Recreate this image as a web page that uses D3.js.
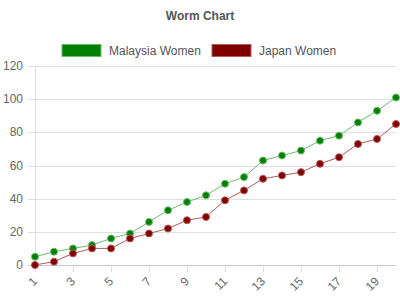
<!DOCTYPE html>
<html>
<head>
<meta charset="utf-8">
<script src="https://cdn.jsdelivr.net/npm/d3@7"></script>
<style>
  body { margin: 0; background: #fff; }
  text { font-family: "Liberation Sans", Arial, sans-serif; }
</style>
</head>
<body>
<svg id="chart" width="400" height="300"></svg>
<script>
const overs = d3.range(1, 21);
const malaysia = [5, 8, 10, 12, 16, 19, 26, 33, 38, 42, 49, 53, 63, 66, 69, 75, 78, 86, 93, 101];
const japan = [0, 2, 7, 10, 10, 16, 19, 22, 27, 29, 39, 45, 52, 54, 56, 61, 65, 73, 76, 85];
const seriesNames = ["Malaysia Women", "Japan Women"];
const seriesColors = ["#008000", "#800000"];
const lineColors = ["#6dbb6d", "#b35a5a"];
const yTicks = [0, 20, 40, 60, 80, 100, 120];

const svg = d3.select("#chart");
const margin = {left: 35, right: 5, top: 66, bottom: 35};
const W = 400, H = 300;

const x = d3.scaleLinear().domain([1, 20]).range([margin.left, W - 4]);
const y = d3.scaleLinear().domain([0, 120]).range([H - margin.bottom, margin.top]);

// Title
svg.append("text")
  .attr("x", 200).attr("y", 20)
  .attr("text-anchor", "middle")
  .attr("font-size", 12).attr("font-weight", "bold")
  .attr("fill", "#555")
  .text("Worm Chart");

// Legend
const legendX = [62, 212];
seriesNames.forEach((name, i) => {
  svg.append("rect")
    .attr("x", legendX[i]).attr("y", 44.5)
    .attr("width", 39).attr("height", 12)
    .attr("fill", seriesColors[i])
    .attr("stroke", lineColors[i]).attr("stroke-width", 1);
  svg.append("text")
    .attr("x", legendX[i] + 47).attr("y", 54.5)
    .attr("font-size", 12).attr("fill", "#555")
    .text(name);
});

// Grid lines
svg.append("g")
  .selectAll("line")
  .data(yTicks)
  .enter().append("line")
  .attr("x1", 28).attr("x2", W - 4)
  .attr("y1", d => Math.round(y(d)) + 0.5).attr("y2", d => Math.round(y(d)) + 0.5)
  .attr("stroke", d => d === 0 ? "#c8c8c8" : "#dfdfdf");

// Vertical axis line
svg.append("line")
  .attr("x1", margin.left + 0.5).attr("x2", margin.left + 0.5)
  .attr("y1", y(120)).attr("y2", y(0))
  .attr("stroke", "#dfdfdf");

// Y labels
svg.append("g")
  .selectAll("text")
  .data(yTicks)
  .enter().append("text")
  .attr("x", 23).attr("y", d => y(d) + 4)
  .attr("text-anchor", "end")
  .attr("font-size", 12).attr("fill", "#666")
  .text(d => d);

// X ticks and labels
const xLabels = overs.filter(d => d % 2 === 1);
svg.append("g")
  .selectAll("line")
  .data(xLabels)
  .enter().append("line")
  .attr("x1", d => Math.round(x(d)) + 0.5).attr("x2", d => Math.round(x(d)) + 0.5)
  .attr("y1", y(0)).attr("y2", y(0) + 7)
  .attr("stroke", "#dfdfdf");

svg.append("g")
  .selectAll("text")
  .data(xLabels)
  .enter().append("text")
  .attr("transform", d => "translate(" + (x(d) + 3) + "," + (y(0) + 17) + ") rotate(-45)")
  .attr("text-anchor", "end")
  .attr("font-size", 12).attr("fill", "#666")
  .text(d => d);

// Series
const line = d3.line().x((d, i) => x(overs[i])).y(d => y(d));
[malaysia, japan].forEach((vals, i) => {
  svg.append("path")
    .datum(vals)
    .attr("d", line)
    .attr("fill", "none")
    .attr("stroke", lineColors[i])
    .attr("stroke-width", 1);
  svg.append("g")
    .selectAll("circle")
    .data(vals)
    .enter().append("circle")
    .attr("cx", (d, j) => x(overs[j]))
    .attr("cy", d => y(d))
    .attr("r", 3.5)
    .attr("fill", seriesColors[i])
    .attr("stroke", lineColors[i])
    .attr("stroke-width", 1);
});
</script>
</body>
</html>
